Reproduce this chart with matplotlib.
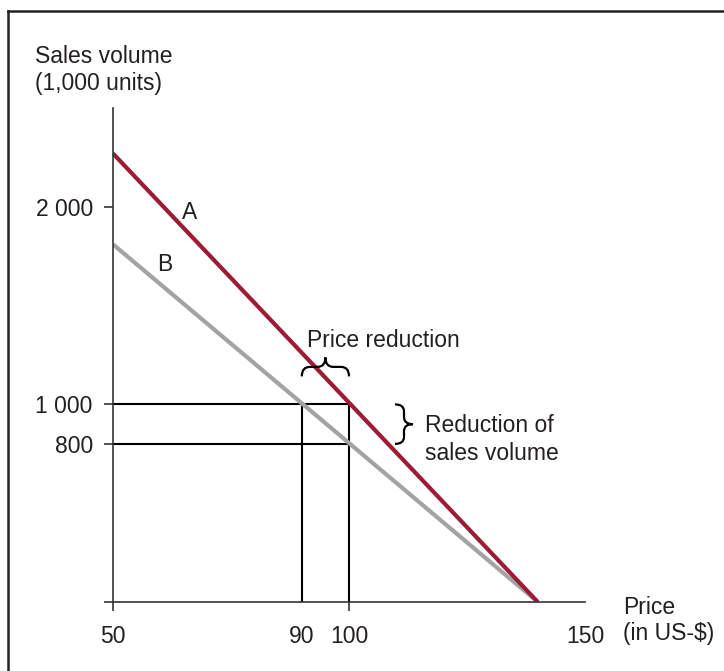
import numpy as np
import matplotlib.pyplot as plt
from matplotlib.lines import Line2D
from matplotlib.path import Path
from matplotlib.patches import PathPatch
from matplotlib.transforms import IdentityTransform

plt.rcParams['font.family'] = ['Liberation Sans', 'DejaVu Sans']

# Demand curves (price in US-$, sales volume in 1,000 units)
price = [50, 140]
volume_a = [2270, 0]
volume_b = [1810, 0]

# Guide values
old_price, new_price = 100, 90
old_volume, new_volume = 1000, 800

x_ticks = [50, 90, 100, 150]
x_labels = ['50', '90', '100', '150']
y_ticks = [0, 800, 1000, 2000]
y_labels = ['', '800', '1 000', '2 000']

TEXT = '#231f20'
AXIS = '#333333'
RED = '#9c1c34'
GREY = '#a3a3a3'
FS = 16.5

W, H = 724, 671
fig = plt.figure(figsize=(W / 100, H / 100), dpi=100)
ax = fig.add_axes([113 / W, (H - 602) / H, 472 / W, 494 / H])
ax.set_xlim(50, 150)
ax.set_ylim(0, 2500)

for s in ['top', 'right']:
    ax.spines[s].set_visible(False)
for s in ['left', 'bottom']:
    ax.spines[s].set_color(AXIS)
    ax.spines[s].set_linewidth(1.2)

ax.set_xticks(x_ticks, x_labels)
ax.set_yticks(y_ticks, y_labels)
ax.tick_params(axis='both', direction='out', length=6.5, width=1.2, color=AXIS,
               labelsize=FS, labelcolor=TEXT)
ax.tick_params(axis='x', pad=10)
ax.tick_params(axis='y', pad=8)
# no tick marks under 90 and 150; 150 gets an inward tick instead
ticks = ax.xaxis.get_major_ticks()
ticks[1].tick1line.set_visible(False)
ticks[3].tick1line.set_visible(False)
ax.xaxis.set_minor_locator(plt.FixedLocator([150]))
ax.tick_params(axis='x', which='minor', direction='in', length=7, width=1.2, color=AXIS)

# guide lines
ax.plot([50, old_price], [old_volume, old_volume], color='black', lw=1.5)
ax.plot([50, old_price], [new_volume, new_volume], color='black', lw=1.5)
ax.plot([new_price, new_price], [0, old_volume], color='black', lw=1.5)
ax.plot([old_price, old_price], [0, old_volume], color='black', lw=1.5)

# demand curves
ax.plot(price, volume_b, color=GREY, lw=3, solid_capstyle='butt')
ax.plot(price, volume_a, color=RED, lw=3, solid_capstyle='butt')

ax.text(66.3, 1970, 'A', fontsize=FS, color=TEXT, ha='center', va='center')
ax.text(61.0, 1706, 'B', fontsize=FS, color=TEXT, ha='center', va='center')


def brace(p0, p1, offset, h, r):
    # curly brace between two data points, shifted by offset px, tip on the left of p0->p1
    a = ax.transData.transform(p0)
    b = ax.transData.transform(p1)
    d = b - a
    L = np.hypot(*d)
    u = d / L
    n = np.array([-u[1], u[0]])
    a = a + n * offset

    def P(s, t):
        return a + s * u + t * n

    m = L / 2
    verts = [P(0, 0), P(0, h / 2), P(r, h / 2),
             P(m - r, h / 2), P(m, h / 2), P(m, h),
             P(m, h / 2), P(m + r, h / 2),
             P(L - r, h / 2), P(L, h / 2), P(L, 0)]
    codes = [Path.MOVETO, Path.CURVE3, Path.CURVE3,
             Path.LINETO, Path.CURVE3, Path.CURVE3,
             Path.CURVE3, Path.CURVE3,
             Path.LINETO, Path.CURVE3, Path.CURVE3]
    patch = PathPatch(Path(verts, codes), transform=IdentityTransform(),
                      fill=False, color='black', lw=1.6)
    fig.add_artist(patch)


brace((new_price, old_volume), (old_price, old_volume), 28, 19, 8)
brace((old_price, old_volume), (old_price, new_volume), 46, 18, 7)

ax.text(91.1, 1291, 'Price reduction', fontsize=FS, color=TEXT, va='baseline', clip_on=False)
ax.text(116.1, 861, 'Reduction of', fontsize=FS, color=TEXT, va='baseline', clip_on=False)
ax.text(116.1, 719, 'sales volume', fontsize=FS, color=TEXT, va='baseline', clip_on=False)

fig.text(35 / W, 1 - 63 / H, 'Sales volume', fontsize=FS, color=TEXT, va='baseline')
fig.text(35 / W, 1 - 90 / H, '(1,000 units)', fontsize=FS, color=TEXT, va='baseline')
fig.text(623 / W, 1 - 614 / H, 'Price', fontsize=FS, color=TEXT, va='baseline')
fig.text(623 / W, 1 - 640 / H, '(in US-$)', fontsize=FS, color=TEXT, va='baseline')

# frame (only top and left edges are visible)
fig.add_artist(Line2D([8 / W, 8 / W], [0, 1 - 11 / H], transform=fig.transFigure,
                      color='#222222', lw=1.8))
fig.add_artist(Line2D([8 / W, 1], [1 - 11 / H, 1 - 11 / H], transform=fig.transFigure,
                      color='#222222', lw=1.8))

fig.savefig('out.png', dpi=100)
